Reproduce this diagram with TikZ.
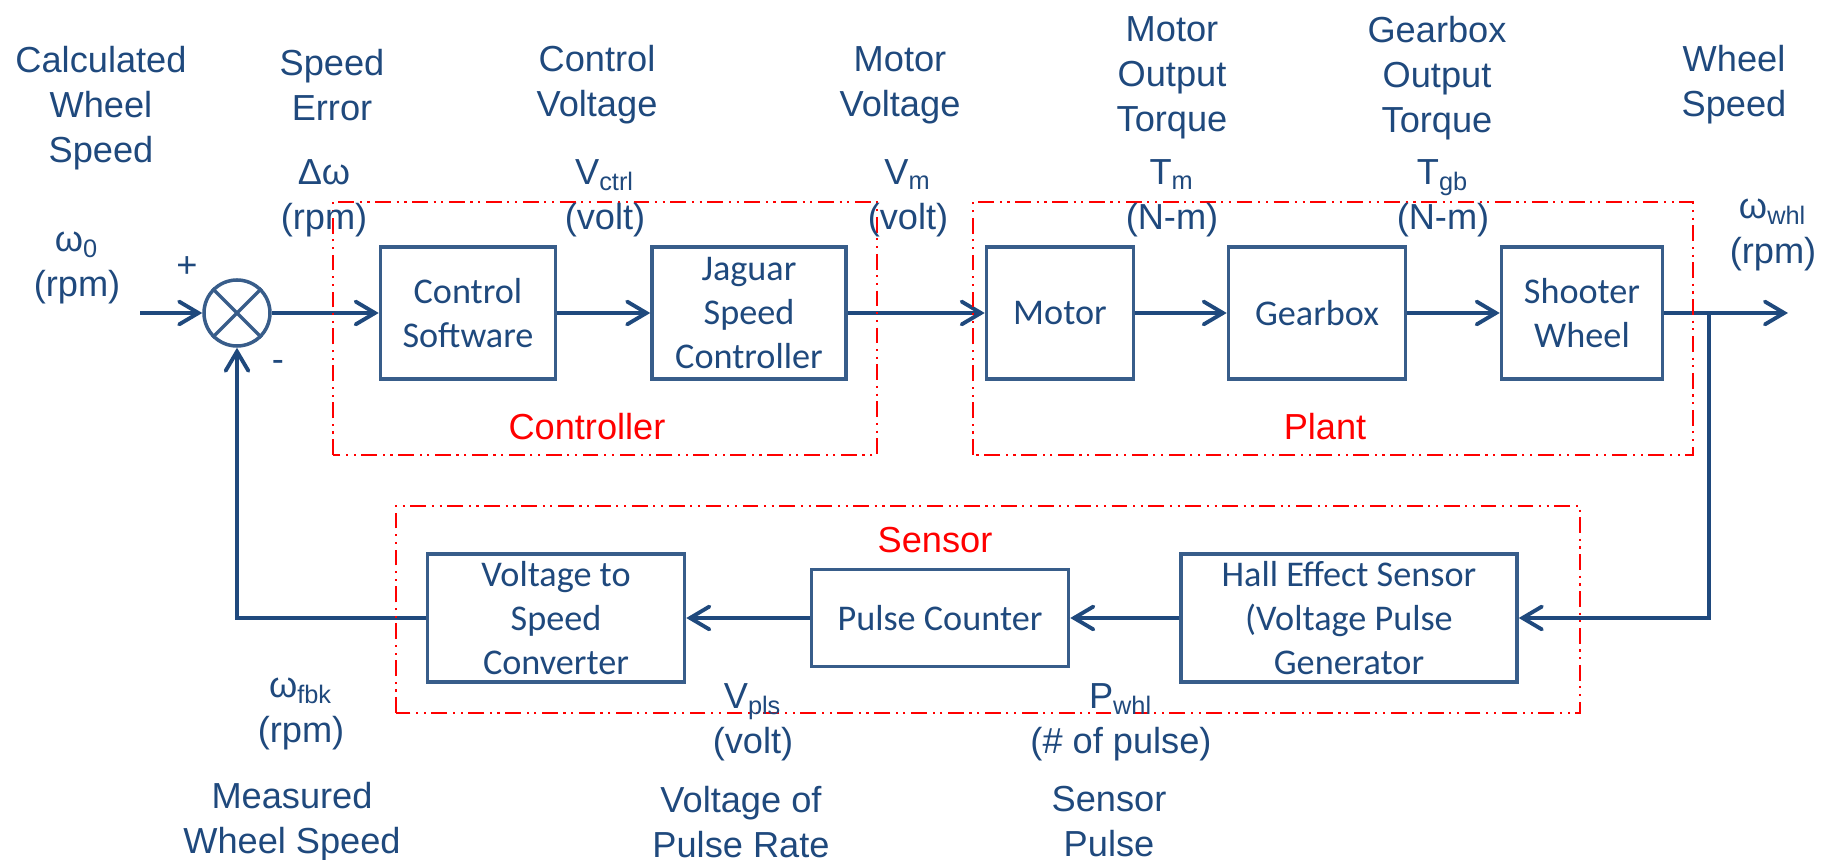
\documentclass[tikz,border=0pt]{standalone}
\usepackage{fontspec}
\setmainfont{Liberation Sans}
\newfontfamily\boxfont{Carlito}
\usetikzlibrary{arrows.meta}
\definecolor{navy}{HTML}{1F497D}
\definecolor{boxblue}{HTML}{385D8A}
\tikzset{
  blk/.style={draw=boxblue,line width=1pt,align=center,inner sep=0pt,text=navy,
    font=\boxfont\fontsize{10.3}{12.4}\selectfont},
  sig/.style={navy,line width=1.1pt,-{Straight Barb[length=5.5pt,width=6.5pt,line cap=round]}},
  grp/.style={red,line width=0.7pt,dash pattern=on 4.5pt off 1.6pt on 0.6pt off 1.6pt on 0.6pt off 1.6pt},
  lbl/.style={align=center,inner sep=0pt,text=navy},
  grplbl/.style={inner sep=0pt,text=red}
}
\begin{document}
\begin{tikzpicture}[font=\fontsize{10.3}{12.8}\selectfont]
\useasboundingbox (0,0) rectangle (18.29,8.6);
\node[circle,draw=boxblue,line width=1pt,minimum size=0.66cm,inner sep=0pt] (sum) at (2.37,5.47) {};
\draw[boxblue,line width=1pt] (sum.north west)--(sum.south east) (sum.north east)--(sum.south west);
\node[blk,minimum width=1.75cm,minimum height=1.32cm] (csw) at (4.68,5.47) {Control\\Software};
\node[blk,minimum width=1.94cm,minimum height=1.32cm] (jag) at (7.49,5.47) {Jaguar\\Speed\\Controller};
\node[blk,minimum width=1.47cm,minimum height=1.32cm] (motor) at (10.60,5.47) {Motor};
\node[blk,minimum width=1.77cm,minimum height=1.32cm] (gbox) at (13.17,5.47) {Gearbox};
\node[blk,minimum width=1.61cm,minimum height=1.32cm] (shoot) at (15.82,5.47) {Shooter\\Wheel};
\node[blk,minimum width=2.57cm,minimum height=1.28cm] (v2s) at (5.56,2.42) {Voltage to\\Speed\\Converter};
\node[blk,minimum width=2.57cm,minimum height=0.97cm] (pcnt) at (9.40,2.42) {Pulse Counter};
\node[blk,minimum width=3.36cm,minimum height=1.28cm] (hall) at (13.49,2.42) {Hall Effect Sensor\\(Voltage Pulse\\Generator};
\coordinate (in) at (1.40,5.47);
\coordinate (out) at (17.88,5.47);
\coordinate (tap) at (17.09,5.47);
\draw[sig] (in) -- (sum);
\draw[sig] (sum) -- (csw);
\draw[sig] (csw) -- (jag);
\draw[sig] (jag) -- (motor);
\draw[sig] (motor) -- (gbox);
\draw[sig] (gbox) -- (shoot);
\draw[sig] (shoot) -- (out);
\draw[sig] (tap) |- (hall);
\draw[sig] (hall) -- (pcnt);
\draw[sig] (pcnt) -- (v2s);
\draw[sig] (v2s) -| (sum);
\draw[grp] (3.33,4.05) rectangle (8.77,6.58);
\draw[grp] (9.73,4.05) rectangle (16.93,6.58);
\draw[grp] (3.96,1.47) rectangle (15.80,3.54);
\node[grplbl] (ctrllbl) at (5.87,4.33) {Controller};
\node[grplbl] (plantlbl) at (13.25,4.33) {Plant};
\node[grplbl] (senslbl) at (9.35,3.20) {Sensor};
\node[lbl] (calc) at (1.01,7.52) {Calculated\\Wheel\\Speed};
\node[lbl] (errt) at (3.32,7.75) {Speed\\Error};
\node[lbl] (ctlt) at (5.97,7.75) {Control\\Voltage};
\node[lbl] (motvt) at (9.00,7.75) {Motor\\Voltage};
\node[lbl] (motqt) at (11.72,7.82) {Motor\\Output\\Torque};
\node[lbl] (gbqt) at (14.37,7.82) {Gearbox\\Output\\Torque};
\node[lbl] (whlt) at (17.34,7.75) {Wheel\\Speed};
\node[lbl] (dw) at (3.24,6.615) {Δω\\(rpm)};
\node[lbl] (vctrl) at (6.05,6.615) {V\textsubscript{ctrl}\\(volt)};
\node[lbl] (vm) at (9.08,6.615) {V\textsubscript{m}\\(volt)};
\node[lbl] (tm) at (11.72,6.615) {T\textsubscript{m}\\(N-m)};
\node[lbl] (tgb) at (14.43,6.615) {T\textsubscript{gb}\\(N-m)};
\node[lbl] (wwhl) at (17.73,6.25) {ω\textsubscript{whl}\\(rpm)};
\node[lbl] (w0) at (0.77,5.92) {ω\textsubscript{0}\\(rpm)};
\node[lbl] (plus) at (1.87,5.93) {+};
\node[lbl] (minus) at (2.78,4.94) {-};
\node[lbl] (wfbk) at (3.01,1.46) {ω\textsubscript{fbk}\\(rpm)};
\node[lbl] (meas) at (2.92,0.38) {Measured\\Wheel Speed};
\node[lbl] (vpls) at (7.53,1.38) {V\textsubscript{pls}\\(volt)};
\node[lbl] (vplst) at (7.41,0.38) {Voltage of\\Pulse Rate};
\node[lbl] (pwhl) at (11.21,1.38) {P\textsubscript{whl}\\(\# of pulse)};
\node[lbl] (pwhlt) at (11.09,0.38) {Sensor\\Pulse};
\end{tikzpicture}
\end{document}
